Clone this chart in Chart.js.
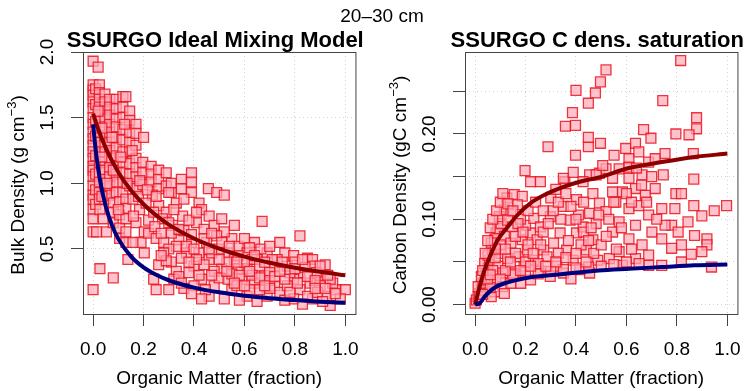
<!DOCTYPE html>
<html>
<head>
<meta charset="utf-8">
<script src="https://cdn.jsdelivr.net/npm/chart.js@4"></script>
<style>
  body { margin: 0; background: #fff; width: 753px; height: 391px; overflow: hidden; position: relative;
         font-family: "Liberation Sans", Arial, sans-serif; }
  #left { position: absolute; left: 0; top: 0; }
  #right { position: absolute; left: 382px; top: 0; }
  #depth { position: absolute; left: 282px; width: 200px; top: 6px; text-align: center;
           font-size: 19px; line-height: 19px; color: #000; }
</style>
</head>
<body>
<canvas id="left" width="371" height="391"></canvas>
<canvas id="right" width="371" height="391"></canvas>
<div id="depth">20–30 cm</div>
<script>
const FONT = '"Liberation Sans", Arial, sans-serif';

// axis ticks
const xTicks = [0, 0.2, 0.4, 0.6, 0.8, 1.0];
const bdTicks = [0.5, 1.0, 1.5, 2.0];
const bdTickLabels = ['0.5', '1.0', '1.5', '2.0'];
const cdTicks = [0, 0.05, 0.10, 0.15, 0.20, 0.25];
const cdTickLabels = ['0.00', '', '0.10', '', '0.20', ''];

// observed bulk density vs organic matter [om, bd]
const bdObs = [
  [0.00,1.93],[0.02,1.885],
  [0.00,1.75],[0.00,1.71],[0.00,1.67],[0.00,1.62],[0.00,1.57],[0.00,1.50],[0.00,1.45],[0.00,1.39],[0.00,1.34],
  [0.00,1.29],[0.00,1.24],[0.00,1.19],[0.00,1.13],[0.00,1.10],[0.00,1.05],[0.00,0.98],[0.00,0.91],[0.00,0.88],
  [0.00,0.80],[0.00,0.73],[0.00,0.63],[0.00,0.19],
  [0.01,1.72],[0.01,1.60],[0.01,1.47],[0.01,1.36],[0.01,1.21],[0.01,1.07],[0.01,0.95],[0.01,0.84],
  [0.025,1.75],[0.025,1.69],[0.025,1.64],[0.025,1.58],[0.025,1.52],[0.025,1.47],[0.025,1.39],[0.025,1.31],
  [0.025,1.24],[0.025,1.16],[0.025,1.08],[0.025,1.01],[0.025,0.93],[0.025,0.88],[0.027,0.80],[0.027,0.35],[0.014,0.63],
  [0.047,1.68],[0.047,1.62],[0.047,1.55],[0.047,1.49],[0.047,1.43],[0.047,1.36],[0.047,1.30],[0.047,1.24],
  [0.047,1.16],[0.047,1.10],[0.047,1.03],[0.047,0.96],[0.047,0.88],[0.04,0.73],[0.053,0.63],
  [0.066,1.64],[0.066,1.58],[0.066,1.52],[0.066,1.45],[0.066,1.39],[0.066,1.31],[0.066,1.25],[0.066,1.19],
  [0.066,1.12],[0.066,1.05],[0.066,0.98],[0.066,0.91],[0.08,0.28],
  [0.092,1.64],[0.092,1.57],[0.092,1.49],[0.092,1.43],[0.092,1.35],[0.092,1.27],[0.092,1.21],[0.092,1.13],
  [0.092,1.07],[0.092,1.01],[0.092,0.93],[0.08,0.85],[0.08,0.78],[0.08,0.70],
  [0.118,1.66],[0.118,1.58],[0.118,1.50],[0.118,1.41],[0.118,1.33],[0.118,1.24],[0.118,1.16],[0.118,1.08],
  [0.118,1.01],[0.118,0.93],[0.105,0.86],[0.105,0.76],[0.105,0.66],[0.105,0.58],[0.13,1.66],
  [0.145,1.55],[0.145,1.48],[0.145,1.39],[0.145,1.31],[0.145,1.24],[0.145,1.15],[0.145,1.07],[0.145,0.98],
  [0.13,0.88],[0.13,0.81],[0.13,0.73],[0.13,0.63],[0.13,0.55],[0.138,0.42],
  [0.17,1.45],[0.17,1.38],[0.17,1.29],[0.17,1.19],[0.17,1.12],[0.17,1.05],[0.17,0.96],[0.158,0.88],
  [0.184,0.80],[0.17,0.70],[0.203,0.63],[0.19,0.55],[0.203,0.47],[0.158,0.55],[0.20,1.35],
  [0.197,1.16],[0.197,1.08],[0.197,0.99],[0.23,1.13],[0.23,1.07],[0.23,1.01],[0.26,1.10],[0.26,1.03],
  [0.26,0.96],[0.29,1.08],[0.29,0.98],[0.31,1.00],[0.31,0.93],[0.35,1.03],[0.35,0.96],[0.39,1.08],[0.39,1.01],[0.39,0.93],
  [0.235,0.91],[0.26,0.83],[0.30,0.93],[0.29,0.78],[0.33,0.85],[0.275,0.73],[0.315,0.68],[0.355,0.75],
  [0.34,0.57],[0.33,0.52],[0.37,0.47],[0.39,0.55],[0.22,0.62],[0.25,0.58],[0.31,0.62],[0.22,0.72],
  [0.245,0.67],[0.36,0.64],[0.28,0.55],[0.30,0.50],[0.35,0.43],[0.31,0.40],[0.28,0.47],
  [0.24,0.27],[0.25,0.19],[0.30,0.19],[0.26,0.38],[0.29,0.41],[0.27,0.45],[0.33,0.33],[0.32,0.27],[0.36,0.20],[0.34,0.29],
  [0.457,0.96],[0.49,0.93],[0.52,0.91],[0.42,0.85],[0.43,0.80],[0.46,0.75],[0.41,0.70],[0.44,0.65],
  [0.48,0.68],[0.51,0.73],[0.39,0.61],[0.37,0.52],[0.42,0.47],[0.46,0.42],[0.40,0.37],[0.38,0.32],
  [0.43,0.27],[0.48,0.22],[0.46,0.14],[0.40,0.22],[0.35,0.24],[0.51,0.35],[0.535,0.47],[0.56,0.42],
  [0.55,0.58],[0.575,0.52],[0.52,0.63],[0.56,0.68],[0.45,0.55],[0.49,0.60],[0.50,0.50],[0.47,0.47],
  [0.44,0.38],[0.48,0.33],[0.42,0.30],[0.50,0.28],[0.53,0.40],[0.41,0.42],[0.445,0.19],[0.39,0.16],[0.43,0.12],
  [0.60,0.58],[0.64,0.55],[0.67,0.71],[0.61,0.47],[0.65,0.42],[0.69,0.47],[0.72,0.37],[0.74,0.55],
  [0.61,0.35],[0.59,0.27],[0.64,0.24],[0.68,0.30],[0.72,0.22],[0.55,0.19],[0.52,0.12],[0.61,0.14],
  [0.69,0.14],[0.74,0.17],[0.575,0.35],[0.535,0.27],[0.63,0.42],[0.76,0.47],[0.73,0.42],[0.575,0.45],
  [0.665,0.50],[0.62,0.51],[0.70,0.52],[0.66,0.37],[0.70,0.32],[0.63,0.30],[0.57,0.22],[0.66,0.19],
  [0.60,0.40],[0.71,0.42],[0.55,0.31],[0.58,0.11],[0.65,0.10],[0.70,0.26],[0.62,0.19],
  [0.82,0.60],[0.795,0.45],[0.85,0.43],[0.87,0.42],[0.77,0.37],[0.82,0.32],[0.87,0.37],[0.795,0.27],
  [0.86,0.24],[0.90,0.22],[0.82,0.19],[0.87,0.12],[0.94,0.07],[0.925,0.14],[0.965,0.19],[1.00,0.19],
  [0.95,0.24],[0.90,0.30],[0.85,0.14],[0.77,0.22],[0.795,0.12],[0.94,0.27],[0.885,0.32],[0.78,0.32],
  [0.76,0.27],[0.80,0.40],[0.84,0.36],[0.92,0.38],[0.89,0.17],[0.98,0.12],[0.83,0.08],[0.76,0.11],[0.91,0.10],
  [0.02,1.55],[0.035,1.42],[0.035,1.20],[0.035,0.90],[0.055,1.00],[0.075,1.35],[0.08,1.10],[0.10,0.80],
  [0.11,1.20],[0.125,1.45],[0.135,1.00],[0.155,1.25],[0.16,0.75],[0.18,0.90],[0.185,1.02],[0.21,0.85],
  [0.215,0.95],[0.24,0.78],[0.25,0.90],[0.27,0.62],[0.30,0.70],[0.32,0.80],[0.34,0.65],[0.36,0.88],
  [0.38,0.72],[0.40,0.50],[0.41,0.78],[0.44,0.58],[0.46,0.50],[0.47,0.62],[0.50,0.42],[0.51,0.55],
  [0.53,0.33],[0.54,0.52],[0.57,0.40],[0.58,0.30],[0.60,0.22],[0.62,0.33],[0.64,0.45],[0.66,0.28],
  [0.68,0.40],[0.70,0.20],[0.72,0.29],[0.74,0.33],[0.75,0.40],[0.78,0.17],[0.80,0.35],[0.81,0.24],
  [0.83,0.42],[0.85,0.29],[0.88,0.26],[0.90,0.37],[0.92,0.20],[0.93,0.30],[0.96,0.16],[0.88,0.20],
  [0.68,0.22],[0.56,0.24],[0.47,0.30],[0.38,0.40]
];

// observed carbon density vs organic matter [om, cd]
const cdObs = [
  [0.0,0.0016],[0.005,0.0055],[0.012,0.0094],[0.018,0.013],[0.025,0.017],[0.012,0.021],[0.031,0.025],
  [0.038,0.029],[0.025,0.033],[0.044,0.037],[0.051,0.043],[0.038,0.048],[0.057,0.052],[0.051,0.058],
  [0.07,0.064],[0.064,0.072],[0.077,0.076],[0.083,0.084],[0.09,0.089],[0.103,0.095],[0.096,0.103],
  [0.116,0.111],[0.126,0.125],[0.155,0.129],[0.187,0.127],[0.168,0.117],[0.142,0.109],[0.129,0.099],
  [0.148,0.091],[0.116,0.080],[0.142,0.072],[0.103,0.060],[0.129,0.054],[0.09,0.045],[0.109,0.037],
  [0.083,0.029],[0.109,0.021],[0.077,0.015],[0.064,0.0094],[0.116,0.013],[0.142,0.025],[0.155,0.037],
  [0.181,0.025],[0.194,0.045],[0.174,0.056],[0.207,0.064],[0.187,0.076],[0.22,0.084],[0.20,0.093],
  [0.233,0.101],[0.259,0.091],[0.246,0.076],[0.272,0.064],[0.233,0.052],[0.259,0.039],[0.22,0.029],
  [0.298,0.033],[0.324,0.045],[0.285,0.056],[0.311,0.072],[0.337,0.084],[0.298,0.103],[0.35,0.115],
  [0.376,0.099],[0.402,0.084],[0.363,0.064],[0.389,0.052],[0.35,0.037],[0.415,0.041],[0.441,0.064],
  [0.467,0.076],[0.428,0.091],[0.454,0.107],[0.402,0.123],[0.467,0.130],[0.493,0.119],[0.48,0.095],
  [0.486,0.052],[0.454,0.037],
  [0.198,0.157],[0.22,0.144],[0.259,0.144],[0.356,0.144],[0.289,0.185],[0.398,0.175],[0.449,0.185],
  [0.454,0.152],[0.493,0.154],
  [0.519,0.275],[0.497,0.261],[0.477,0.248],[0.40,0.251],[0.449,0.236],[0.386,0.225],[0.358,0.209],
  [0.398,0.21],[0.815,0.286],[0.744,0.239],[0.878,0.219],[0.878,0.206],[0.848,0.199],[0.796,0.20],
  [0.668,0.205],[0.449,0.196],[0.497,0.189],[0.697,0.195],[0.865,0.177],[0.867,0.147],[0.746,0.152],
  [0.796,0.13],[0.818,0.13],[0.997,0.116],[0.948,0.11],[0.899,0.104],[0.867,0.116],[0.919,0.077],
  [0.919,0.07],[0.937,0.044],[0.857,0.059],[0.818,0.07],[0.779,0.093],[0.792,0.1125],
  [0.597,0.183],[0.636,0.189],[0.61,0.171],[0.649,0.179],[0.688,0.167],[0.714,0.171],[0.753,0.177],
  [0.571,0.159],[0.545,0.148],[0.61,0.148],[0.662,0.152],[0.584,0.132],[0.636,0.136],[0.675,0.128],
  [0.714,0.136],[0.558,0.120],[0.61,0.1125],[0.649,0.116],[0.688,0.105],[0.74,0.1125],[0.571,0.097],
  [0.636,0.093],[0.701,0.085],[0.545,0.085],[0.61,0.077],[0.662,0.070],[0.74,0.077],[0.571,0.062],
  [0.636,0.054],[0.688,0.058],[0.74,0.046],[0.779,0.066],[0.805,0.085],[0.844,0.097],[0.87,0.081],
  [0.899,0.062],[0.532,0.054],[0.584,0.046],[0.688,0.046],[0.818,0.05],[0.753,0.093],[0.519,0.109],
  [0.545,0.132],[0.519,0.159],[0.551,0.175],[0.61,0.161],
  [0.35,0.148],[0.389,0.155],[0.428,0.144],[0.48,0.152],[0.506,0.163],
  [0.15,0.035],[0.2,0.038],[0.25,0.036],[0.3,0.039],[0.35,0.041],[0.4,0.043],[0.45,0.044],[0.5,0.045],
  [0.55,0.047],[0.6,0.05],[0.65,0.048],
  [0.06,0.02],[0.03,0.012],[0.05,0.03],[0.07,0.04],[0.08,0.055],[0.1,0.07],[0.12,0.065],[0.16,0.08],
  [0.18,0.1],[0.21,0.11],[0.24,0.12],[0.27,0.11],[0.3,0.125],[0.32,0.135],[0.34,0.1],[0.37,0.075],
  [0.41,0.105],[0.43,0.12],[0.2,0.05],[0.26,0.07],[0.33,0.06],[0.38,0.03],[0.43,0.085],[0.47,0.06],
  [0.16,0.06],[0.12,0.04],[0.08,0.065],
  [0.03,0.04],[0.04,0.06],[0.05,0.075],[0.06,0.09],[0.07,0.10],[0.085,0.11],[0.10,0.12],[0.11,0.13],
  [0.13,0.118],[0.15,0.11],[0.17,0.095],[0.19,0.085],[0.21,0.07],[0.23,0.06],[0.25,0.048],[0.27,0.085],
  [0.29,0.095],[0.31,0.11],[0.33,0.12],[0.36,0.13],[0.38,0.115],[0.40,0.10],[0.42,0.07],[0.44,0.05],
  [0.46,0.09],[0.49,0.105],[0.50,0.07],[0.52,0.08],[0.53,0.10],[0.56,0.065],[0.58,0.09],[0.60,0.13],
  [0.62,0.12],[0.64,0.16],[0.66,0.14],[0.68,0.12],[0.70,0.15],[0.72,0.10],[0.62,0.065],[0.55,0.12],
  [0.14,0.05],[0.10,0.03],[0.06,0.035],[0.18,0.04],[0.22,0.045],[0.28,0.045],[0.32,0.05],[0.36,0.055],
  [0.40,0.06],[0.45,0.075]
];

// fitted curves
const bdRedOM  = [0, 0.02, 0.05, 0.1, 0.15, 0.2, 0.25, 0.3, 0.4, 0.5, 0.6, 0.7, 0.8, 0.9, 1.0];
const bdRed    = [1.53, 1.414, 1.27, 1.085, 0.947, 0.841, 0.756, 0.686, 0.58, 0.502, 0.442, 0.395, 0.357, 0.326, 0.30];
const bdBlueOM = [0, 0.01, 0.02, 0.03, 0.05, 0.075, 0.1, 0.15, 0.2, 0.25, 0.3, 0.4, 0.5, 0.6, 0.7, 0.8, 0.9, 1.0];
const bdBlue   = [1.45, 1.26, 1.113, 0.998, 0.826, 0.68, 0.577, 0.444, 0.36, 0.304, 0.262, 0.206, 0.17, 0.144, 0.125, 0.111, 0.099, 0.09];
const cdRedOM  = [0, 0.018, 0.038, 0.064, 0.09, 0.129, 0.168, 0.22, 0.285, 0.35, 0.415, 0.49, 0.61, 0.74, 0.87, 1.0];
const cdRed    = [0, 0.021, 0.041, 0.06, 0.076, 0.091, 0.105, 0.119, 0.130, 0.138, 0.144, 0.149, 0.160, 0.167, 0.173, 0.177];
const cdBlueOM = [0, 0.018, 0.038, 0.064, 0.09, 0.129, 0.168, 0.22, 0.285, 0.35, 0.49, 0.61, 0.74, 0.87, 1.0];
const cdBlue   = [0, 0.0016, 0.0094, 0.017, 0.022, 0.026, 0.029, 0.032, 0.034, 0.036, 0.040, 0.042, 0.044, 0.046, 0.047];

Chart.defaults.font.family = FONT;
Chart.defaults.font.size = 19;
Chart.defaults.color = '#000';

function toXY(xs, ys) {
  return xs.map((x, i) => ({x: x, y: ys[i]}));
}

// box, panel title, rotated y tick labels and y title with superscript
function makeDecor(title, tickVals, tickText, yTitle) {
  return {
    id: 'decor',
    afterDraw(chart) {
      const ctx = chart.ctx;
      const a = chart.chartArea;
      const ys = chart.scales.y;
      ctx.save();
      ctx.strokeStyle = '#444';
      ctx.lineWidth = 1;
      ctx.strokeRect(a.left + 0.5, a.top + 0.5, a.right - a.left, a.bottom - a.top);

      ctx.fillStyle = '#000';
      ctx.font = 'bold 22px ' + FONT;
      ctx.textAlign = 'center';
      ctx.textBaseline = 'alphabetic';
      ctx.fillText(title, (a.left + a.right) / 2 - 4, 47);

      ctx.font = '19px ' + FONT;
      ctx.textBaseline = 'middle';
      tickVals.forEach((v, i) => {
        if (!tickText[i]) return;
        ctx.save();
        ctx.translate(a.left - 35, ys.getPixelForValue(v));
        ctx.rotate(-Math.PI / 2);
        ctx.fillText(tickText[i], 0, 0);
        ctx.restore();
      });

      // y axis title
      const big = '19px ' + FONT, small = '13px ' + FONT;
      ctx.translate(a.left - 64, (a.top + a.bottom) / 2 + 2);
      ctx.rotate(-Math.PI / 2);
      ctx.font = big;
      const w1 = ctx.measureText(yTitle[0]).width;
      const w3 = ctx.measureText(yTitle[2]).width;
      ctx.font = small;
      const w2 = ctx.measureText(yTitle[1]).width;
      let x = -(w1 + w2 + w3) / 2;
      ctx.textAlign = 'left';
      ctx.font = big;
      ctx.fillText(yTitle[0], x, 0);
      x += w1;
      ctx.font = small;
      ctx.fillText(yTitle[1], x, -7);
      x += w2;
      ctx.font = big;
      ctx.fillText(yTitle[2], x, 0);
      ctx.restore();
    }
  };
}

function makePanel(id, obs, red, blue, yMin, yMax, yTicks, yTickText, title, yTitle) {
  return new Chart(document.getElementById(id), {
    type: 'scatter',
    data: {
      datasets: [{
          data: obs.map(p => ({x: p[0], y: p[1]})),
          pointStyle: 'rect',
          pointRadius: 7,
          backgroundColor: 'rgba(255,170,185,0.7)',
          borderColor: 'rgba(235,20,30,0.85)',
          borderWidth: 1.3,
          order: 2
        },
        {
          data: red,
          showLine: true,
          borderColor: '#8b0000',
          borderWidth: 4,
          pointRadius: 0,
          cubicInterpolationMode: 'monotone',
          order: 1
        },
        {
          data: blue,
          showLine: true,
          borderColor: '#00007f',
          borderWidth: 4,
          pointRadius: 0,
          cubicInterpolationMode: 'monotone',
          order: 0
        }
      ]
    },
    options: {
      responsive: false,
      animation: false,
      devicePixelRatio: 1,
      layout: { padding: { top: 52, right: 12, left: 0, bottom: 0 } },
      plugins: { legend: { display: false }, tooltip: { enabled: false } },
      scales: {
        x: {
          type: 'linear',
          min: -0.04,
          max: 1.04,
          afterBuildTicks: s => { s.ticks = xTicks.map(v => ({value: v})); },
          afterFit: s => { s.height = 77; },
          ticks: { padding: 12, maxRotation: 0, autoSkip: false, callback: v => v.toFixed(1) },
          grid: { color: '#d3d3d3', tickColor: '#444', tickLength: 12, tickBorderDash: [] },
          border: { display: false, dash: [1, 3] },
          title: { display: true, text: 'Organic Matter (fraction)', padding: { top: 0, bottom: 1 } }
        },
        y: {
          type: 'linear',
          min: yMin,
          max: yMax,
          afterBuildTicks: s => { s.ticks = yTicks.map(v => ({value: v})); },
          afterFit: s => { s.width = 83; },
          ticks: { display: false },
          grid: { color: '#d3d3d3', tickColor: '#444', tickLength: 12, tickBorderDash: [] },
          border: { display: false, dash: [1, 3] }
        }
      }
    },
    plugins: [makeDecor(title, yTicks, yTickText, yTitle)]
  });
}

makePanel('left', bdObs, toXY(bdRedOM, bdRed), toXY(bdBlueOM, bdBlue),
  0.005, 2.0, bdTicks, bdTickLabels, 'SSURGO Ideal Mixing Model',
  ['Bulk Density (g cm', '\u22123', ')']);

makePanel('right', cdObs, toXY(cdRedOM, cdRed), toXY(cdBlueOM, cdBlue),
  -0.011, 0.296, cdTicks, cdTickLabels, 'SSURGO C dens. saturation',
  ['Carbon Density (gC cm', '\u22123', ')']);
</script>
</body>
</html>
